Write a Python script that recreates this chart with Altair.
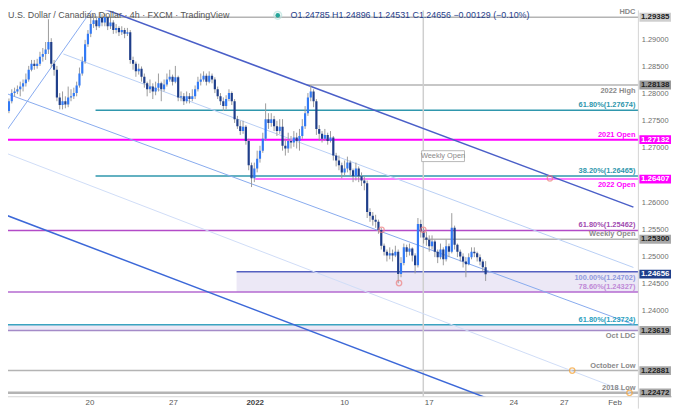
import altair as alt
import pandas as pd

# ---------------- data ----------------
first_open = 1.2738
closes = [
    1.2766, 1.2784, 1.2799, 1.2802, 1.2806, 1.2811, 1.2817, 1.2824, 1.2842, 1.2853,
    1.2849, 1.2853, 1.2866, 1.2871, 1.2879, 1.2893, 1.2853, 1.2842, 1.2791, 1.2777,
    1.2784, 1.2778, 1.2791, 1.2793, 1.2799, 1.2813, 1.2835, 1.2857, 1.2889, 1.2908,
    1.2926, 1.2933, 1.2922, 1.2937, 1.2929, 1.2939, 1.2922, 1.2929, 1.2915, 1.2919,
    1.2911, 1.2915, 1.2908, 1.2911, 1.2860, 1.2853, 1.2839, 1.2844, 1.2829, 1.2817,
    1.2806, 1.2811, 1.2802, 1.2809, 1.2817, 1.2806, 1.2815, 1.2824, 1.2829, 1.2820,
    1.2828, 1.2791, 1.2793, 1.2784, 1.2793, 1.2788, 1.2793, 1.2806, 1.2820, 1.2824,
    1.2831, 1.2820, 1.2831, 1.2824, 1.2806, 1.2793, 1.2784, 1.2775, 1.2788, 1.2799,
    1.2784, 1.2751, 1.2738, 1.2729, 1.2737, 1.2711, 1.2666, 1.2642, 1.2660, 1.2678,
    1.2693, 1.2715, 1.2751, 1.2744, 1.2751, 1.2738, 1.2729, 1.2737, 1.2702, 1.2697,
    1.2711, 1.2708, 1.2717, 1.2711, 1.2720, 1.2738, 1.2762, 1.2791, 1.2802, 1.2784,
    1.2733, 1.2724, 1.2715, 1.2722, 1.2711, 1.2717, 1.2684, 1.2675, 1.2666, 1.2653,
    1.2660, 1.2671, 1.2657, 1.2646, 1.2660, 1.2646, 1.2638, 1.2633, 1.2580, 1.2573,
    1.2566, 1.2562, 1.2547, 1.2518, 1.2507, 1.2500, 1.2504, 1.2500, 1.2507, 1.2466,
    1.2486, 1.2515, 1.2507, 1.2513, 1.2500, 1.2482, 1.2558, 1.2544, 1.2533, 1.2529,
    1.2517, 1.2526, 1.2507, 1.2497, 1.2511, 1.2493, 1.2517, 1.2507, 1.2551, 1.2520,
    1.2507, 1.2498, 1.2489, 1.2484, 1.2497, 1.2507, 1.2504, 1.2497, 1.2489, 1.24785,
    1.24656]
highs = [
    1.2775, 1.2789, 1.2806, 1.2809, 1.2813, 1.2820, 1.2824, 1.2835, 1.2849, 1.2860,
    1.2860, 1.2862, 1.2875, 1.2882, 1.2893, 1.2935, 1.2900, 1.2860, 1.2849, 1.2799,
    1.2802, 1.2793, 1.2811, 1.2806, 1.2809, 1.2820, 1.2846, 1.2866, 1.2897, 1.2915,
    1.2940, 1.2944, 1.2940, 1.2948, 1.2944, 1.2946, 1.2940, 1.2939, 1.2933, 1.2926,
    1.2922, 1.2922, 1.2919, 1.2919, 1.2915, 1.2866, 1.2857, 1.2853, 1.2848, 1.2835,
    1.2820, 1.2824, 1.2817, 1.2820, 1.2835, 1.2820, 1.2824, 1.2835, 1.2842, 1.2833,
    1.2849, 1.2831, 1.2802, 1.2799, 1.2802, 1.2799, 1.2806, 1.2813, 1.2829, 1.2835,
    1.2839, 1.2835, 1.2839, 1.2835, 1.2828, 1.2811, 1.2799, 1.2791, 1.2795, 1.2806,
    1.2802, 1.2788, 1.2757, 1.2748, 1.2748, 1.2740, 1.2715, 1.2671, 1.2671, 1.2693,
    1.2702, 1.2726, 1.2780, 1.2762, 1.2762, 1.2757, 1.2748, 1.2751, 1.2751, 1.2715,
    1.2726, 1.2720, 1.2729, 1.2726, 1.2733, 1.2751, 1.2775, 1.2799, 1.2814, 1.2806,
    1.2788, 1.2740, 1.2729, 1.2733, 1.2726, 1.2729, 1.2720, 1.2689, 1.2684, 1.2671,
    1.2675, 1.2682, 1.2675, 1.2660, 1.2671, 1.2664, 1.2653, 1.2646, 1.2638, 1.2587,
    1.2580, 1.2575, 1.2566, 1.2551, 1.2522, 1.2511, 1.2515, 1.2511, 1.2518, 1.2511,
    1.2497, 1.2522, 1.2520, 1.2522, 1.2515, 1.2504, 1.2569, 1.2566, 1.2551, 1.2544,
    1.2537, 1.2537, 1.2529, 1.2511, 1.2522, 1.2515, 1.2529, 1.2522, 1.2578, 1.2555,
    1.2522, 1.2511, 1.2504, 1.2497, 1.2504, 1.2515, 1.2515, 1.2507, 1.2502, 1.2493,
    1.24896]
lows = [
    1.2729, 1.2762, 1.2780, 1.2793, 1.2797, 1.2793, 1.2802, 1.2811, 1.2820, 1.2839,
    1.2842, 1.2844, 1.2849, 1.2857, 1.2860, 1.2871, 1.2846, 1.2831, 1.2784, 1.2769,
    1.2769, 1.2771, 1.2773, 1.2784, 1.2788, 1.2793, 1.2809, 1.2831, 1.2853, 1.2884,
    1.2902, 1.2919, 1.2915, 1.2919, 1.2922, 1.2922, 1.2915, 1.2917, 1.2908, 1.2909,
    1.2904, 1.2906, 1.2900, 1.2904, 1.2853, 1.2842, 1.2829, 1.2833, 1.2820, 1.2809,
    1.2793, 1.2799, 1.2788, 1.2795, 1.2802, 1.2784, 1.2802, 1.2811, 1.2820, 1.2813,
    1.2817, 1.2784, 1.2784, 1.2777, 1.2780, 1.2780, 1.2784, 1.2788, 1.2802, 1.2813,
    1.2820, 1.2813, 1.2817, 1.2817, 1.2799, 1.2788, 1.2777, 1.2766, 1.2769, 1.2784,
    1.2777, 1.2744, 1.2733, 1.2722, 1.2724, 1.2704, 1.2657, 1.2626, 1.2635, 1.2653,
    1.2671, 1.2689, 1.2711, 1.2733, 1.2737, 1.2729, 1.2720, 1.2724, 1.2693, 1.2684,
    1.2689, 1.2697, 1.2700, 1.2697, 1.2693, 1.2715, 1.2733, 1.2757, 1.2784, 1.2773,
    1.2722, 1.2711, 1.2708, 1.2711, 1.2704, 1.2708, 1.2675, 1.2664, 1.2657, 1.2642,
    1.2646, 1.2653, 1.2646, 1.2635, 1.2638, 1.2635, 1.2628, 1.2620, 1.2569, 1.2562,
    1.2555, 1.2551, 1.2540, 1.2511, 1.2500, 1.2489, 1.2493, 1.2489, 1.2497, 1.2449,
    1.2460, 1.2482, 1.2497, 1.2500, 1.2489, 1.2467, 1.2478, 1.2533, 1.2522, 1.2518,
    1.2507, 1.2511, 1.2497, 1.2486, 1.2493, 1.2482, 1.2489, 1.2497, 1.2504, 1.2511,
    1.2497, 1.2489, 1.2478, 1.2460, 1.2482, 1.2493, 1.2497, 1.2489, 1.2482, 1.2471,
    1.24531]

# price-axis ticks that are not covered by a level box in the reference
price_ticks = [1.240, 1.245, 1.250, 1.255, 1.260,
               1.270, 1.275, 1.280, 1.285, 1.290]
date_tick_bars = [29.7, 59.3, 88.3, 120.0, 150.0, 180.0, 197.9, 215.9]
date_tick_labels = ["20", "27", "2022", "10", "17", "24", "27", "Feb"]

level_prices = [1.29385, 1.28138, 1.27674, 1.27132, 1.26465, 1.26407, 1.25462,
                1.25300, 1.24702, 1.24327, 1.23724, 1.23619, 1.22881, 1.22472]
level_labels = ["HDC", "2022 High", "61.80%(1.27674)", "2021 Open", "38.20%(1.26465)",
                "2022 Open", "61.80%(1.25462)", "Weekly Open", "100.00%(1.24702)",
                "78.60%(1.24327)", "61.80%(1.23724)", "Oct LDC", "October Low", "2018 Low"]
level_start_bar = [28.3, 106.6, 31.7, -5, 31.7, 88.3, -5, 147.9, 81.7, -5, -5, -5, -5, -5]

zone_start_bar = [81.7, -5]
zone_top = [1.24702, 1.23724]
zone_bottom = [1.24327, 1.23619]

box_prices = [1.29385, 1.28138, 1.27132, 1.26407, 1.25300, 1.24656, 1.23619, 1.22881, 1.22472]
box_texts = ["1.29385", "1.28138", "1.27132", "1.26407", "1.25300", "1.24656",
             "1.23619", "1.22881", "1.22472"]

line_names = ["rise", "chan_top", "chan_bottom", "fork_upper", "fork_mid", "fork_lower"]
line_bar_a = [-0.35, 33.1, -0.35, 20.3, -0.35, -0.35]
line_price_a = [1.2726, 1.2957, 1.2575, 1.2871, 1.2799, 1.2689]
line_bar_b = [31.7, 222.4, 222.4, 222.4, 222.4, 222.4]
line_price_b = [1.2962, 1.2589, 1.2135, 1.2478, 1.2373, 1.2244]

marker_bars = [133.1, 147.9, 139.3, 192.8, 200.7, 221.0]
marker_prices = [1.25474, 1.25474, 1.24492, 1.26420, 1.22881, 1.22472]

weekly_open_bar = 147.9
weekly_note_bar = [147.3, 162.5]
weekly_note_price = [1.26929, 1.26729]

header_title = "U.S. Dollar / Canadian Dollar \u00b7 4h \u00b7 FXCM \u00b7 TradingView"
header_ohlc = "O1.24785  H1.24896  L1.24531  C1.24656  \u22120.00129 (\u22120.10%)"

# ---------------- styles ----------------
UP = "#3179f5"
DOWN = "#1f3e8a"
WICK = "#9a9a9a"
GRAY_LINE = "#b4b4b4"
GRAY_TXT = "#8a8a8a"
MAGENTA = "#ff00ff"
TEAL = "#2f97ad"
PURPLE = "#b34bc8"

level_colors = [GRAY_LINE, GRAY_LINE, TEAL, MAGENTA, TEAL, "#ff7bff", PURPLE, GRAY_LINE,
                "#5560c0", "#b56ad0", "#3aa3c0", "#a48bc8", GRAY_LINE, GRAY_LINE]
level_widths = [1.5, 1.5, 1.5, 2, 1.5, 2, 1.5, 1.5, 1.5, 1.5, 1.5, 1.5, 1.5, 2.5]
label_colors = [GRAY_TXT, GRAY_TXT, TEAL, MAGENTA, TEAL, MAGENTA, "#a14bb0", GRAY_TXT,
                "#8f98dc", "#c08ad6", "#2aa0c0", GRAY_TXT, GRAY_TXT, GRAY_TXT]
label_side = ["above", "below", "above", "above", "above", "below", "above", "above",
              "below", "above", "above", "below", "above", "above"]
box_bg = ["#cfcfcf", "#9a9a9a", MAGENTA, MAGENTA, "#a8a8a8", "#1f3e8a",
          "#a8a8a8", "#a8a8a8", "#a8a8a8"]
box_fg = ["#222222", "#222222", "#ffffff", "#ffffff", "#222222", "#ffffff",
          "#222222", "#222222", "#222222"]
line_colors = ["#86aaf0", "#4a5fc8", "#3c68d8", "#b8cef5", "#86aaee", "#cfdcf7"]
line_widths = [1, 1.5, 1.5, 1, 1, 1]
marker_colors = ["#f08080", "#f08080", "#f08080", "#f08080", "#f5a030", "#f5a030"]

FONT = "Liberation Sans"
X_DOMAIN = [2.414, 222.414]
Y_DOMAIN = [1.22400, 1.29512]
W, H = 638, 391


def X(field):
    return alt.X(field, type="quantitative",
                 scale=alt.Scale(domain=X_DOMAIN, nice=False, zero=False), axis=None)


def Y(field):
    return alt.Y(field, type="quantitative",
                 scale=alt.Scale(domain=Y_DOMAIN, nice=False, zero=False), axis=None)


# ---------------- tables ----------------
opens = [first_open] + closes[:-1]
candles = pd.DataFrame({
    "bar": list(range(len(closes))),
    "open": opens, "close": closes, "high": highs, "low": lows,
})
candles["col"] = [UP if c >= o else DOWN for o, c in zip(opens, closes)]

levels = pd.DataFrame({
    "price": level_prices, "label": level_labels, "start": level_start_bar,
    "end": [X_DOMAIN[1] + 5] * len(level_prices),
    "col": level_colors, "w": level_widths, "lcol": label_colors, "side": label_side,
})
zones = pd.DataFrame({"start": zone_start_bar, "end": [X_DOMAIN[1] + 5] * 2,
                      "top": zone_top, "bottom": zone_bottom})
boxes = pd.DataFrame({"price": box_prices, "txt": box_texts, "bg": box_bg, "fg": box_fg})
rows = []
for n, ba, pa, bb, pb, c, w in zip(line_names, line_bar_a, line_price_a, line_bar_b,
                                   line_price_b, line_colors, line_widths):
    rows.append({"name": n, "bar": ba, "price": pa, "col": c, "w": w, "o": 0})
    rows.append({"name": n, "bar": bb, "price": pb, "col": c, "w": w, "o": 1})
lines = pd.DataFrame(rows)
markers = pd.DataFrame({"bar": marker_bars, "price": marker_prices, "col": marker_colors})
pticks = pd.DataFrame({"p": price_ticks})
dticks = pd.DataFrame({"bar": date_tick_bars, "lab": date_tick_labels})
note = pd.DataFrame({"b1": [weekly_note_bar[0]], "b2": [weekly_note_bar[1]],
                     "p1": [weekly_note_price[0]], "p2": [weekly_note_price[1]],
                     "bm": [(weekly_note_bar[0] + weekly_note_bar[1]) / 2],
                     "pm": [(weekly_note_price[0] + weekly_note_price[1]) / 2],
                     "t": ["Weekly Open"]})
vline = pd.DataFrame({"bar": [weekly_open_bar]})
one = pd.DataFrame({"a": [0]})

# ---------------- layers ----------------
zone_layer = alt.Chart(zones).mark_rect(color="#ece8f6", clip=True).encode(
    x=X("start"), x2="end", y=Y("top"), y2="bottom")

level_layer = alt.Chart(levels).mark_rule(clip=True).encode(
    x=X("start"), x2="end", y=Y("price"),
    color=alt.Color("col:N", scale=None),
    strokeWidth=alt.StrokeWidth("w:Q", scale=None))

vline_layer = alt.Chart(vline).mark_rule(color="#cfcfcf", strokeWidth=1.5).encode(
    x=X("bar"), y=alt.value(0), y2=alt.value(H))

line_layer = alt.Chart(lines).mark_line(clip=True).encode(
    x=X("bar"), y=Y("price"), detail="name:N", order="o:Q",
    color=alt.Color("col:N", scale=None),
    strokeWidth=alt.StrokeWidth("w:Q", scale=None))

wick_layer = alt.Chart(candles).mark_rule(color=WICK, strokeWidth=1, clip=True).encode(
    x=X("bar"), y=Y("low"), y2="high")

body_layer = alt.Chart(candles).mark_bar(size=2.2, clip=True).encode(
    x=X("bar"), y=Y("open"), y2="close", color=alt.Color("col:N", scale=None))

marker_layer = alt.Chart(markers).mark_point(
    shape="circle", filled=False, size=30, strokeWidth=1.3, clip=True).encode(
    x=X("bar"), y=Y("price"), color=alt.Color("col:N", scale=None))

note_rect = alt.Chart(note).mark_rect(fill="#ffffff", stroke="#b8b8b8", strokeWidth=1).encode(
    x=X("b1"), x2="b2", y=Y("p1"), y2="p2")
note_text = alt.Chart(note).mark_text(font=FONT, fontSize=7.5, color="#8a8a8a").encode(
    x=X("bm"), y=Y("pm"), text="t:N")

lab_above = alt.Chart(levels).transform_filter(alt.datum.side == "above").mark_text(
    font=FONT, fontSize=7.5, fontWeight="bold", align="right", baseline="middle", dy=-5
).encode(x=alt.value(W - 3), y=Y("price"), text="label:N",
         color=alt.Color("lcol:N", scale=None))
lab_below = alt.Chart(levels).transform_filter(alt.datum.side == "below").mark_text(
    font=FONT, fontSize=7.5, fontWeight="bold", align="right", baseline="middle", dy=6
).encode(x=alt.value(W - 3), y=Y("price"), text="label:N",
         color=alt.Color("lcol:N", scale=None))

sep_v = alt.Chart(one).mark_rule(color="#d4d4d4", strokeWidth=1).encode(
    x=alt.value(W), y=alt.value(0), y2=alt.value(H + 12))
sep_h = alt.Chart(one).mark_rule(color="#d4d4d4", strokeWidth=1).encode(
    x=alt.value(0), x2=alt.value(W + 34), y=alt.value(H))

ptick_layer = alt.Chart(pticks).mark_text(
    font=FONT, fontSize=7.5, color="#6e6e6e", align="center", baseline="middle",
    dy=1.5).encode(
    x=alt.value(W + 17), y=Y("p"), text=alt.Text("p:Q", format=".5f"))

box_path = "M-1,-0.28L1,-0.28L1,0.28L-1,0.28Z"
box_layer = alt.Chart(boxes).mark_point(
    shape=box_path, size=1024, filled=True, opacity=1, strokeWidth=0).encode(
    x=alt.value(W + 17), y=Y("price"), color=alt.Color("bg:N", scale=None))
box_text = alt.Chart(boxes).mark_text(
    font=FONT, fontSize=8, fontWeight="bold", align="center", baseline="middle").encode(
    x=alt.value(W + 17), y=Y("price"), text="txt:N", color=alt.Color("fg:N", scale=None))

dtick_normal = alt.Chart(dticks).transform_filter(alt.datum.lab != "2022").mark_text(
    font=FONT, fontSize=8, color="#5a5a5a", align="center", baseline="middle").encode(
    x=X("bar"), y=alt.value(H + 6), text="lab:N")
dtick_bold = alt.Chart(dticks).transform_filter(alt.datum.lab == "2022").mark_text(
    font=FONT, fontSize=8, fontWeight="bold", color="#444444", align="center",
    baseline="middle").encode(
    x=X("bar"), y=alt.value(H + 6), text="lab:N")

title_layer = alt.Chart(one).mark_text(
    font=FONT, fontSize=9, color="#555555", align="left", baseline="middle").encode(
    x=alt.value(0), y=alt.value(5), text=alt.value(header_title))
dot_ring = alt.Chart(one).mark_point(
    shape="circle", filled=False, size=60, color="#b8e3de", strokeWidth=1.5).encode(
    x=alt.value(273), y=alt.value(5))
dot_layer = alt.Chart(one).mark_point(
    shape="circle", filled=True, size=22, color="#26a69a", opacity=1).encode(
    x=alt.value(273), y=alt.value(5))
ohlc_layer = alt.Chart(one).mark_text(
    font=FONT, fontSize=9, color="#1f3e8a", align="left", baseline="middle").encode(
    x=alt.value(286), y=alt.value(5), text=alt.value(header_ohlc))

chart = alt.layer(
    zone_layer, level_layer, vline_layer, line_layer, wick_layer, body_layer,
    marker_layer, note_rect, note_text, lab_above, lab_below, sep_v, sep_h,
    ptick_layer, box_layer, box_text, dtick_normal, dtick_bold, title_layer,
    dot_ring, dot_layer, ohlc_layer,
).properties(
    width=W, height=H,
    padding={"left": 0, "top": 0, "right": 34, "bottom": 12},
    autosize=alt.AutoSizeParams(type="none"),
    background="#ffffff",
).configure_view(stroke=None)

chart.save("out.html", embed_options={"renderer": "svg", "actions": False})
